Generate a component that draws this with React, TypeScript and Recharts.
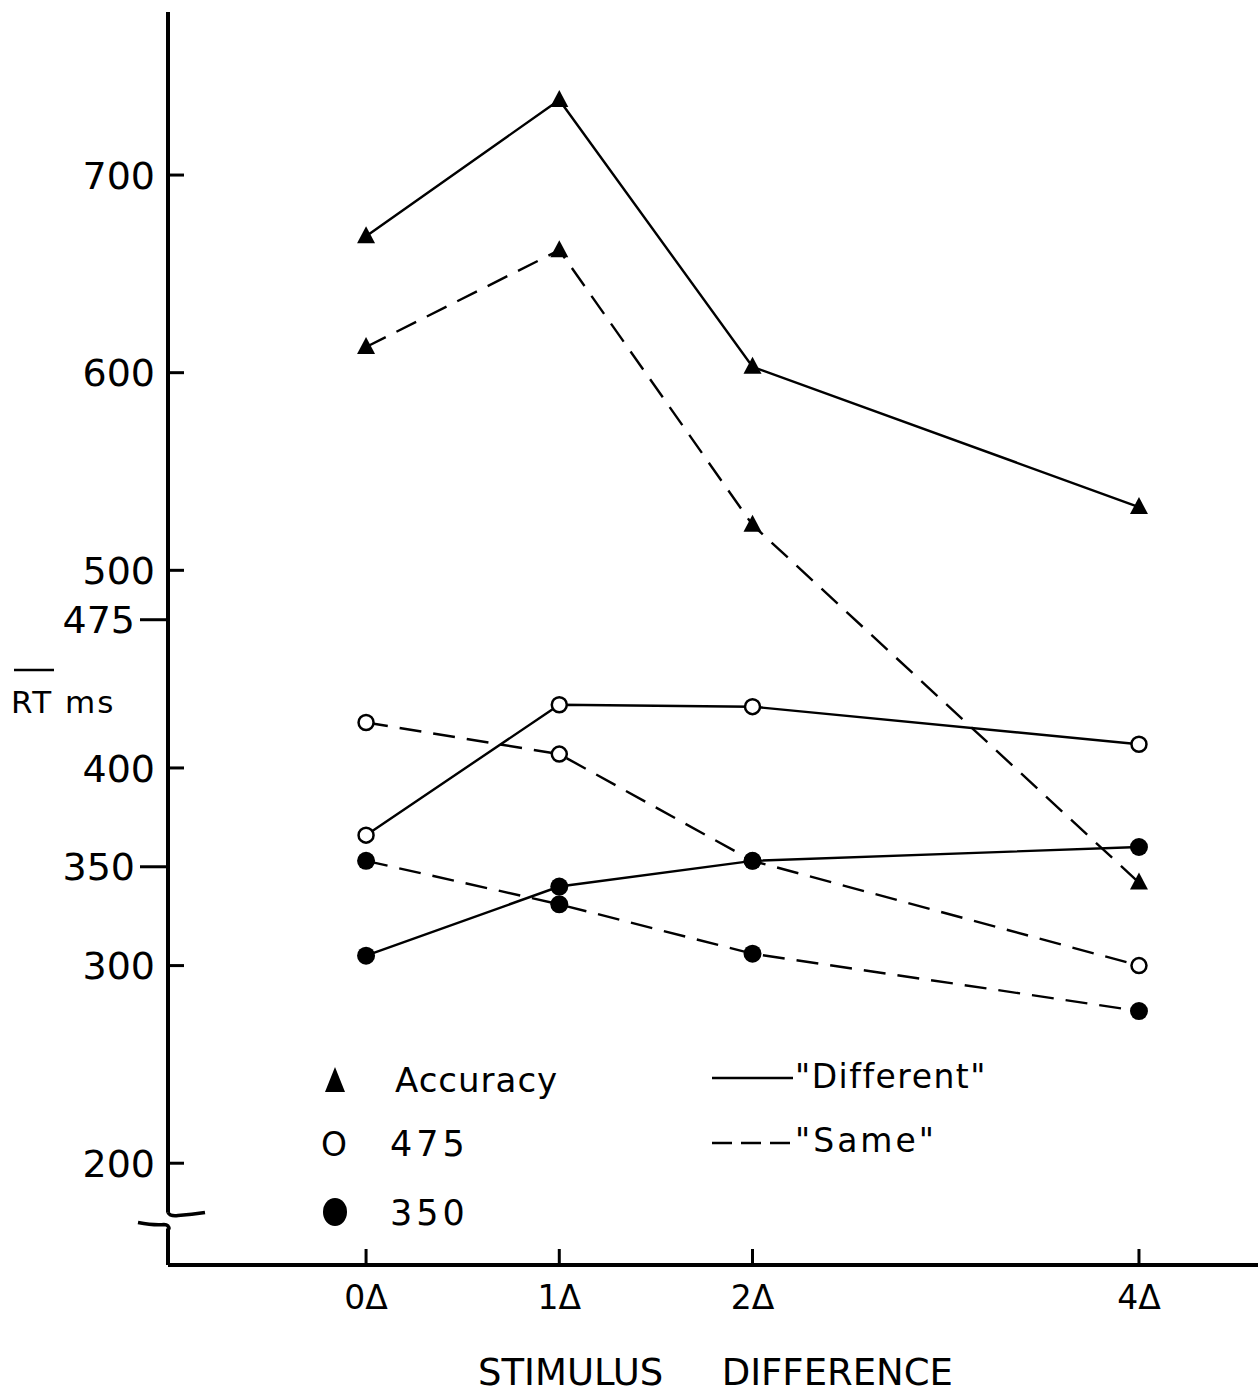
import React from 'react';
import { LineChart, Line, XAxis, YAxis, Legend, ReferenceLine, ReferenceDot } from 'recharts';

// stimulus difference levels (x) and their labels
const stimulus = [0, 1, 2, 4];
const stimulusLabels = ['0Δ', '1Δ', '2Δ', '4Δ'];

// mean RT (ms)
const accuracyDifferent = [669, 738, 603, 532];
const accuracySame = [613, 662, 523, 342];
const rt475Different = [366, 432, 431, 412];
const rt475Same = [423, 407, 353, 300];
const rt350Different = [305, 340, 353, 360];
const rt350Same = [353, 331, 306, 277];

const yTicks = [200, 300, 350, 400, 475, 500, 600, 700];
const outsideTicks = [350, 475];

const xDomain = [-1.025, 4.616];
const yDomain = [148.5, 782.5];
const breakTop = 175;
const breakBottom = 167;

const FONT = "'DejaVu Sans', sans-serif";

const data = stimulus.map((x, i) => ({
  x,
  accDiff: accuracyDifferent[i],
  accSame: accuracySame[i],
  d475: rt475Different[i],
  s475: rt475Same[i],
  d350: rt350Different[i],
  s350: rt350Same[i],
}));

const Triangle = (props: any) => {
  const { cx, cy } = props;
  if (cx == null || cy == null) return <g />;
  return <path d={`M${cx},${cy - 10} L${cx + 9},${cy + 7} L${cx - 9},${cy + 7} Z`} fill="#000" />;
};

const OpenCircle = (props: any) => {
  const { cx, cy } = props;
  if (cx == null || cy == null) return <g />;
  return <circle cx={cx} cy={cy} r={7.5} fill="#fff" stroke="#000" strokeWidth={2.5} />;
};

const FilledCircle = (props: any) => {
  const { cx, cy } = props;
  if (cx == null || cy == null) return <g />;
  return <circle cx={cx} cy={cy} r={9} fill="#000" />;
};

const YTick = (props: any) => {
  const { x, y, payload } = props;
  const outside = outsideTicks.includes(payload.value);
  return (
    <g>
      <line
        x1={outside ? x - 28 : x}
        x2={outside ? x : x + 16}
        y1={y}
        y2={y}
        stroke="#000"
        strokeWidth={3}
      />
      <text
        x={outside ? x - 33 : x - 13}
        y={y}
        dy="0.36em"
        textAnchor="end"
        fontSize={38}
        fontFamily={FONT}
        fill="#000"
      >
        {payload.value}
      </text>
    </g>
  );
};

const XTick = (props: any) => {
  const { x, y, payload } = props;
  const label = stimulusLabels[stimulus.indexOf(payload.value)];
  return (
    <g>
      <line x1={x} x2={x} y1={y} y2={y - 16} stroke="#000" strokeWidth={3} />
      <text x={x} y={y + 44} textAnchor="middle" fontSize={33} fontFamily={FONT} fill="#000">
        {label}
      </text>
    </g>
  );
};

const RtLabel = (props: any) => {
  const vb = props.viewBox || { x: 0, y: 12 };
  const left = vb.x + 11;
  return (
    <g>
      <line x1={left + 3} x2={left + 43} y1={670} y2={670} stroke="#000" strokeWidth={2.5} />
      <text x={left} y={713} fontSize={31} letterSpacing={2} fontFamily={FONT} fill="#000">
        RT ms
      </text>
    </g>
  );
};

const XTitle = (props: any) => {
  const vb = props.viewBox || { x: 168, y: 1265 };
  const base = vb.y + 120;
  return (
    <g fontFamily={FONT} fontSize={37} fill="#000">
      <text x={478} y={base} textAnchor="start">STIMULUS</text>
      <text x={953} y={base} textAnchor="end">DIFFERENCE</text>
    </g>
  );
};

const AxisBreak = (props: any) => {
  const { cx, cy } = props;
  if (cx == null || cy == null) return <g />;
  return (
    <g fill="none" stroke="#000" strokeWidth={3.5}>
      <path d={`M${cx},${cy - 8} Q${cx + 2},${cy - 4} ${cx + 10},${cy - 5} Q${cx + 24},${cy - 6} ${cx + 37},${cy - 8}`} />
      <path d={`M${cx - 30},${cy + 2} Q${cx - 14},${cy + 5} ${cx - 4},${cy + 4} Q${cx + 1},${cy + 4} ${cx + 1},${cy + 9}`} />
    </g>
  );
};

const LegendBox = () => (
  <svg width={720} height={200} style={{ display: 'block', fontFamily: FONT }}>
    <path d="M35,27 L45,52 L25,52 Z" fill="#000" />
    <text x={95} y={52} fontSize={34} letterSpacing={1} fill="#000">Accuracy</text>
    <text x={21} y={116} fontSize={33} fill="#000">O</text>
    <text x={90} y={116} fontSize={35} letterSpacing={4} fill="#000">475</text>
    <ellipse cx={35} cy={172} rx={12} ry={14} fill="#000" />
    <text x={90} y={185} fontSize={35} letterSpacing={4} fill="#000">350</text>
    <line x1={412} x2={493} y1={38} y2={38} stroke="#000" strokeWidth={2.5} />
    <text x={495} y={48} fontSize={33} letterSpacing={1.5} fill="#000">"Different"</text>
    <line x1={412} x2={490} y1={103} y2={103} stroke="#000" strokeWidth={2.5} strokeDasharray="20 9" />
    <text x={495} y={112} fontSize={33} letterSpacing={3} fill="#000">"Same"</text>
  </svg>
);

const lineStyle = { stroke: '#000', strokeWidth: 2.4 };

export default function App() {
  return (
    <div style={{ position: 'absolute', left: 0, top: 0, width: 1258, height: 1397, background: '#fff', fontFamily: FONT }}>
      <LineChart width={1258} height={1397} data={data} margin={{ top: 12, right: 0, bottom: 0, left: 0 }}>
        <XAxis
          dataKey="x"
          type="number"
          domain={xDomain}
          ticks={stimulus}
          interval={0}
          height={132}
          tickSize={0}
          tickMargin={0}
          tick={XTick}
          axisLine={{ stroke: '#000', strokeWidth: 4 }}
          tickLine={false}
          label={{ content: XTitle }}
        />
        <YAxis
          type="number"
          domain={yDomain}
          ticks={yTicks}
          interval={0}
          width={168}
          tickSize={0}
          tickMargin={0}
          tick={YTick}
          axisLine={false}
          tickLine={false}
          label={{ content: RtLabel }}
        />
        <ReferenceLine
          segment={[{ x: xDomain[0], y: yDomain[1] }, { x: xDomain[0], y: breakTop }]}
          stroke="#000"
          strokeWidth={4}
          ifOverflow="visible"
        />
        <ReferenceLine
          segment={[{ x: xDomain[0], y: breakBottom }, { x: xDomain[0], y: yDomain[0] }]}
          stroke="#000"
          strokeWidth={4}
          ifOverflow="visible"
        />
        <ReferenceDot x={xDomain[0]} y={(breakTop + breakBottom) / 2} r={0} shape={AxisBreak} ifOverflow="visible" />
        <Legend
          layout="vertical"
          align="center"
          verticalAlign="middle"
          content={LegendBox}
          wrapperStyle={{ position: 'absolute', left: 300, top: 1040, width: 720, height: 200 }}
        />
        <Line dataKey="accDiff" {...lineStyle} dot={Triangle} activeDot={false} isAnimationActive={false} />
        <Line dataKey="accSame" {...lineStyle} strokeDasharray="22 12" dot={Triangle} activeDot={false} isAnimationActive={false} />
        <Line dataKey="s475" {...lineStyle} strokeDasharray="22 12" dot={OpenCircle} activeDot={false} isAnimationActive={false} />
        <Line dataKey="d475" {...lineStyle} dot={OpenCircle} activeDot={false} isAnimationActive={false} />
        <Line dataKey="s350" {...lineStyle} strokeDasharray="22 12" dot={FilledCircle} activeDot={false} isAnimationActive={false} />
        <Line dataKey="d350" {...lineStyle} dot={FilledCircle} activeDot={false} isAnimationActive={false} />
      </LineChart>
    </div>
  );
}
